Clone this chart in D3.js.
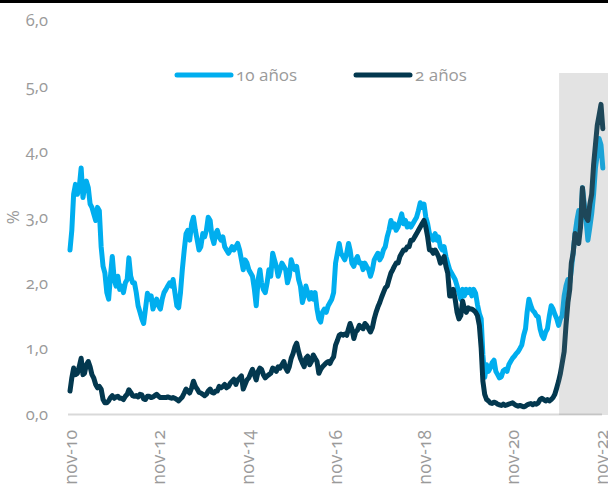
<!DOCTYPE html>
<html>
<head>
<meta charset="utf-8">
<script src="https://cdn.jsdelivr.net/npm/d3@7"></script>
<style>
  body { margin: 0; background: #fff; }
  svg { display: block; font-family: "Open Sans", sans-serif; font-feature-settings: "onum"; }
</style>
</head>
<body>
<svg id="chart" width="608" height="491"></svg>
<script>
// Series metadata
const seriesNames = ["10 años", "2 años"];
const seriesColors = ["#00AEEF", "#03384F"];

// Axis ticks
const yTicks = [0, 1, 2, 3, 4, 5, 6];
const yTickLabels = ["0,0", "1,0", "2,0", "3,0", "4,0", "5,0", "6,0"];
const xTickYears = [2010, 2012, 2014, 2016, 2018, 2020, 2022];
const xTickLabels = ["nov-10", "nov-12", "nov-14", "nov-16", "nov-18", "nov-20", "nov-22"];

// Observations twice a month (1st and 16th), from Nov 2010 to Nov 2022
const firstObs = new Date(2010, 10, 1);
const shadeFrom = new Date(2021, 10, 20);

// 10-year yield, %
const y10 = [
  2.5, 2.8, 3.35, 3.5,
  3.35, 3.45, 3.75, 3.3, 3.45, 3.55, 3.45, 3.2, 3.15, 3.05, 2.95, 3.15, 3.1, 2.55, 2.25, 2.15, 1.85, 1.75, 2.1, 2.4, 2.05, 1.95, 2.1, 1.9,
  1.95, 1.85, 2.0, 2.05, 2.38, 2.1, 2.0, 2.0, 1.85, 1.65, 1.55, 1.45, 1.38, 1.6, 1.84, 1.75, 1.8, 1.6, 1.7, 1.75, 1.65, 1.6, 1.75, 1.85,
  1.9, 1.95, 2.0, 1.95, 2.05, 1.85, 1.65, 1.62, 1.85, 2.2, 2.5, 2.75, 2.8, 2.65, 2.9, 3.0, 2.8, 2.65, 2.5, 2.55, 2.75, 2.7, 2.8, 3.0,
  2.95, 2.7, 2.6, 2.75, 2.8, 2.7, 2.65, 2.7, 2.55, 2.5, 2.45, 2.5, 2.55, 2.5, 2.55, 2.6, 2.5, 2.35, 2.2, 2.35, 2.3, 2.2, 2.15, 2.1,
  1.9, 1.65, 2.05, 2.2, 2.0, 1.9, 1.85, 2.0, 2.2, 2.1, 2.45, 2.35, 2.25, 2.1, 2.2, 2.3, 2.25, 2.2, 2.0, 2.1, 2.35, 2.25, 2.2, 2.25,
  2.05, 1.95, 1.7, 1.8, 1.95, 1.85, 1.75, 1.85, 1.75, 1.85, 1.6, 1.45, 1.4, 1.55, 1.6, 1.55, 1.65, 1.7, 1.75, 1.85, 2.3, 2.45, 2.6, 2.45,
  2.4, 2.35, 2.45, 2.6, 2.5, 2.3, 2.25, 2.35, 2.4, 2.3, 2.3, 2.2, 2.3, 2.25, 2.2, 2.1, 2.2, 2.35, 2.4, 2.45, 2.35, 2.4, 2.5, 2.55,
  2.7, 2.8, 2.95, 2.85, 2.9, 2.8, 2.85, 2.95, 3.05, 2.9, 2.95, 2.85, 2.9, 2.85, 2.9, 2.95, 3.0, 3.1, 3.22, 3.15, 3.2, 3.0, 2.9, 2.75,
  2.7, 2.65, 2.75, 2.65, 2.7, 2.55, 2.5, 2.55, 2.4, 2.3, 2.2, 2.15, 2.1, 2.05, 1.95, 1.85, 1.75, 1.9, 1.8, 1.9, 1.85, 1.9, 1.8, 1.9,
  1.84, 1.67, 1.53, 1.45, 0.9, 0.56, 0.75, 0.65, 0.7, 0.78, 0.82, 0.65, 0.6, 0.55, 0.57, 0.66, 0.68, 0.65, 0.75, 0.8, 0.85, 0.88, 0.92, 0.95,
  1.0, 1.05, 1.2, 1.3, 1.55, 1.75, 1.65, 1.58, 1.55, 1.5, 1.48, 1.3, 1.2, 1.15, 1.25, 1.3, 1.5, 1.65, 1.6, 1.52, 1.45, 1.35, 1.45, 1.5,
  1.8, 1.95, 2.05, 2.0, 2.2, 2.45, 2.75, 2.95, 3.1, 2.85, 3.45, 3.2, 2.95, 2.65, 2.85, 3.05, 3.35, 3.75, 3.95, 4.2, 4.1, 3.75
];

// 2-year yield, %
const y2 = [
  0.35, 0.55, 0.7, 0.6,
  0.62, 0.72, 0.85, 0.6, 0.62, 0.75, 0.8, 0.72, 0.6, 0.55, 0.45, 0.4, 0.42, 0.38, 0.22, 0.17, 0.17, 0.2, 0.25, 0.28, 0.24, 0.26, 0.27, 0.24,
  0.24, 0.22, 0.27, 0.3, 0.37, 0.33, 0.28, 0.27, 0.28, 0.26, 0.3, 0.29, 0.23, 0.22, 0.27, 0.27, 0.25, 0.26, 0.28, 0.3, 0.27, 0.25, 0.25, 0.25,
  0.25, 0.26, 0.25, 0.24, 0.25, 0.24, 0.22, 0.2, 0.23, 0.26, 0.32, 0.38, 0.35, 0.32, 0.4, 0.5, 0.42, 0.38, 0.33, 0.32, 0.3, 0.28, 0.3, 0.35,
  0.38, 0.33, 0.32, 0.35, 0.35, 0.42, 0.4, 0.42, 0.45, 0.4, 0.42, 0.47, 0.5, 0.53, 0.45, 0.52, 0.55, 0.58, 0.38, 0.45, 0.52, 0.55, 0.62, 0.68,
  0.6, 0.52, 0.65, 0.7, 0.68, 0.6, 0.55, 0.58, 0.6, 0.62, 0.7, 0.68, 0.65, 0.72, 0.7, 0.75, 0.8, 0.7, 0.65, 0.72, 0.85, 0.92, 1.02, 1.08,
  0.95, 0.85, 0.78, 0.72, 0.85, 0.88, 0.75, 0.8, 0.9, 0.85, 0.8, 0.62, 0.68, 0.72, 0.75, 0.78, 0.8, 0.77, 0.83, 0.87, 1.05, 1.12, 1.2, 1.22,
  1.2, 1.22, 1.2, 1.3, 1.38, 1.3, 1.15, 1.25, 1.28, 1.35, 1.32, 1.3, 1.38, 1.35, 1.3, 1.25, 1.32, 1.45, 1.55, 1.63, 1.7, 1.78, 1.85, 1.92,
  1.95, 2.05, 2.15, 2.2, 2.25, 2.3, 2.3, 2.4, 2.45, 2.5, 2.5, 2.55, 2.55, 2.65, 2.65, 2.7, 2.75, 2.8, 2.85, 2.9, 2.95, 2.85, 2.7, 2.5,
  2.5, 2.45, 2.5, 2.45, 2.4, 2.3, 2.35, 2.4, 2.25, 2.15, 1.8, 1.8, 1.9, 1.75, 1.55, 1.45, 1.5, 1.72, 1.6, 1.55, 1.62, 1.6, 1.6, 1.58,
  1.55, 1.5, 1.35, 1.0, 0.5, 0.3, 0.22, 0.2, 0.17, 0.16, 0.18, 0.17, 0.15, 0.14, 0.13, 0.15, 0.13, 0.14, 0.15, 0.16, 0.17, 0.15, 0.13, 0.12,
  0.13, 0.12, 0.11, 0.12, 0.14, 0.15, 0.16, 0.14, 0.16, 0.15, 0.17, 0.22, 0.24, 0.22, 0.2, 0.22, 0.2, 0.22, 0.25, 0.3, 0.4, 0.5, 0.62, 0.78,
  0.95, 1.35, 1.7, 1.9, 2.3, 2.45, 2.75, 2.65, 2.6, 2.85, 3.45, 3.1, 3.0, 2.95, 3.2, 3.35, 3.8, 4.1, 4.4, 4.55, 4.72, 4.35
];

// Observation dates: 1st and 16th of each month
const obsDate = i => d3.timeDay.offset(d3.timeMonth.offset(firstObs, Math.floor(i / 2)), (i % 2) * 15);
const series = [y10, y2].map((vals, k) => ({
  name: seriesNames[k],
  color: seriesColors[k],
  points: vals.map((v, i) => ({ date: obsDate(i), value: v }))
}));

const width = 608;
const plot = { left: 68, right: 602, top: 20.4, bottom: 414 };

const svg = d3.select("#chart");

const x = d3.scaleTime()
  .domain([new Date(2010, 10, 1), new Date(2022, 10, 1)])
  .range([70, 601]);
const y = d3.scaleLinear()
  .domain([0, 6])
  .range([plot.bottom, plot.top]);

// Black rule along the top edge
svg.append("rect").attr("x", 0).attr("y", 0).attr("width", width).attr("height", 3).attr("fill", "#000");

// Baseline
svg.append("line")
  .attr("x1", plot.left).attr("x2", plot.right)
  .attr("y1", y(0) + 0.5).attr("y2", y(0) + 0.5)
  .attr("stroke", "#d9d9d9").attr("stroke-width", 2);

// Y axis labels
const yAxis = d3.axisLeft(y)
  .tickValues(yTicks)
  .tickFormat((d, i) => yTickLabels[i])
  .tickSize(0).tickPadding(0);
const gy = svg.append("g").attr("transform", "translate(48,0)").call(yAxis);
gy.select(".domain").remove();
gy.selectAll("text")
  .attr("fill", "#9a9a9a").attr("font-size", 16.5)
  .attr("font-family", "\"Open Sans\", sans-serif");

// Y axis title
svg.append("text")
  .attr("transform", `translate(19,${y(3)}) rotate(-90)`)
  .attr("text-anchor", "middle")
  .attr("fill", "#9a9a9a").attr("font-size", 17)
  .text("%");

// X axis labels (rotated)
const xTickDates = xTickYears.map(yr => new Date(yr, 10, 1));
const xAxis = d3.axisBottom(x)
  .tickValues(xTickDates)
  .tickFormat((d, i) => xTickLabels[i])
  .tickSize(0);
const gx = svg.append("g").attr("transform", `translate(0,${plot.bottom})`).call(xAxis);
gx.select(".domain").remove();
gx.selectAll("text")
  .attr("transform", "rotate(-90)")
  .attr("text-anchor", "end")
  .attr("x", -16).attr("y", 0).attr("dy", "0.35em")
  .attr("fill", "#9a9a9a").attr("font-size", 17.5)
  .attr("font-family", "\"Open Sans\", sans-serif");

// Lines
const line = d3.line()
  .x(d => x(d.date))
  .y(d => y(d.value))
  .curve(d3.curveLinear);

svg.append("g").selectAll("path")
  .data(series)
  .join("path")
  .attr("d", d => line(d.points))
  .attr("fill", "none")
  .attr("stroke", d => d.color)
  .attr("stroke-width", 5)
  .attr("stroke-linejoin", "round")
  .attr("stroke-linecap", "round");

// Shaded period over the most recent months
svg.append("rect")
  .attr("x", x(shadeFrom))
  .attr("y", 73)
  .attr("width", width - x(shadeFrom))
  .attr("height", plot.bottom + 1 - 73)
  .attr("fill", "rgb(127,127,127)")
  .attr("fill-opacity", 0.22);

// Legend
const legendX = [177, 356];
const legend = svg.append("g").selectAll("g")
  .data(series)
  .join("g")
  .attr("transform", (d, i) => `translate(${legendX[i]},75)`);
legend.append("line")
  .attr("x1", 0).attr("x2", 54).attr("y1", 0).attr("y2", 0)
  .attr("stroke", d => d.color).attr("stroke-width", 5)
  .attr("stroke-linecap", "round");
legend.append("text")
  .attr("x", 59).attr("y", 0).attr("dy", "0.36em")
  .attr("fill", "#9a9a9a").attr("font-size", 17)
  .text(d => d.name);
</script>
</body>
</html>
